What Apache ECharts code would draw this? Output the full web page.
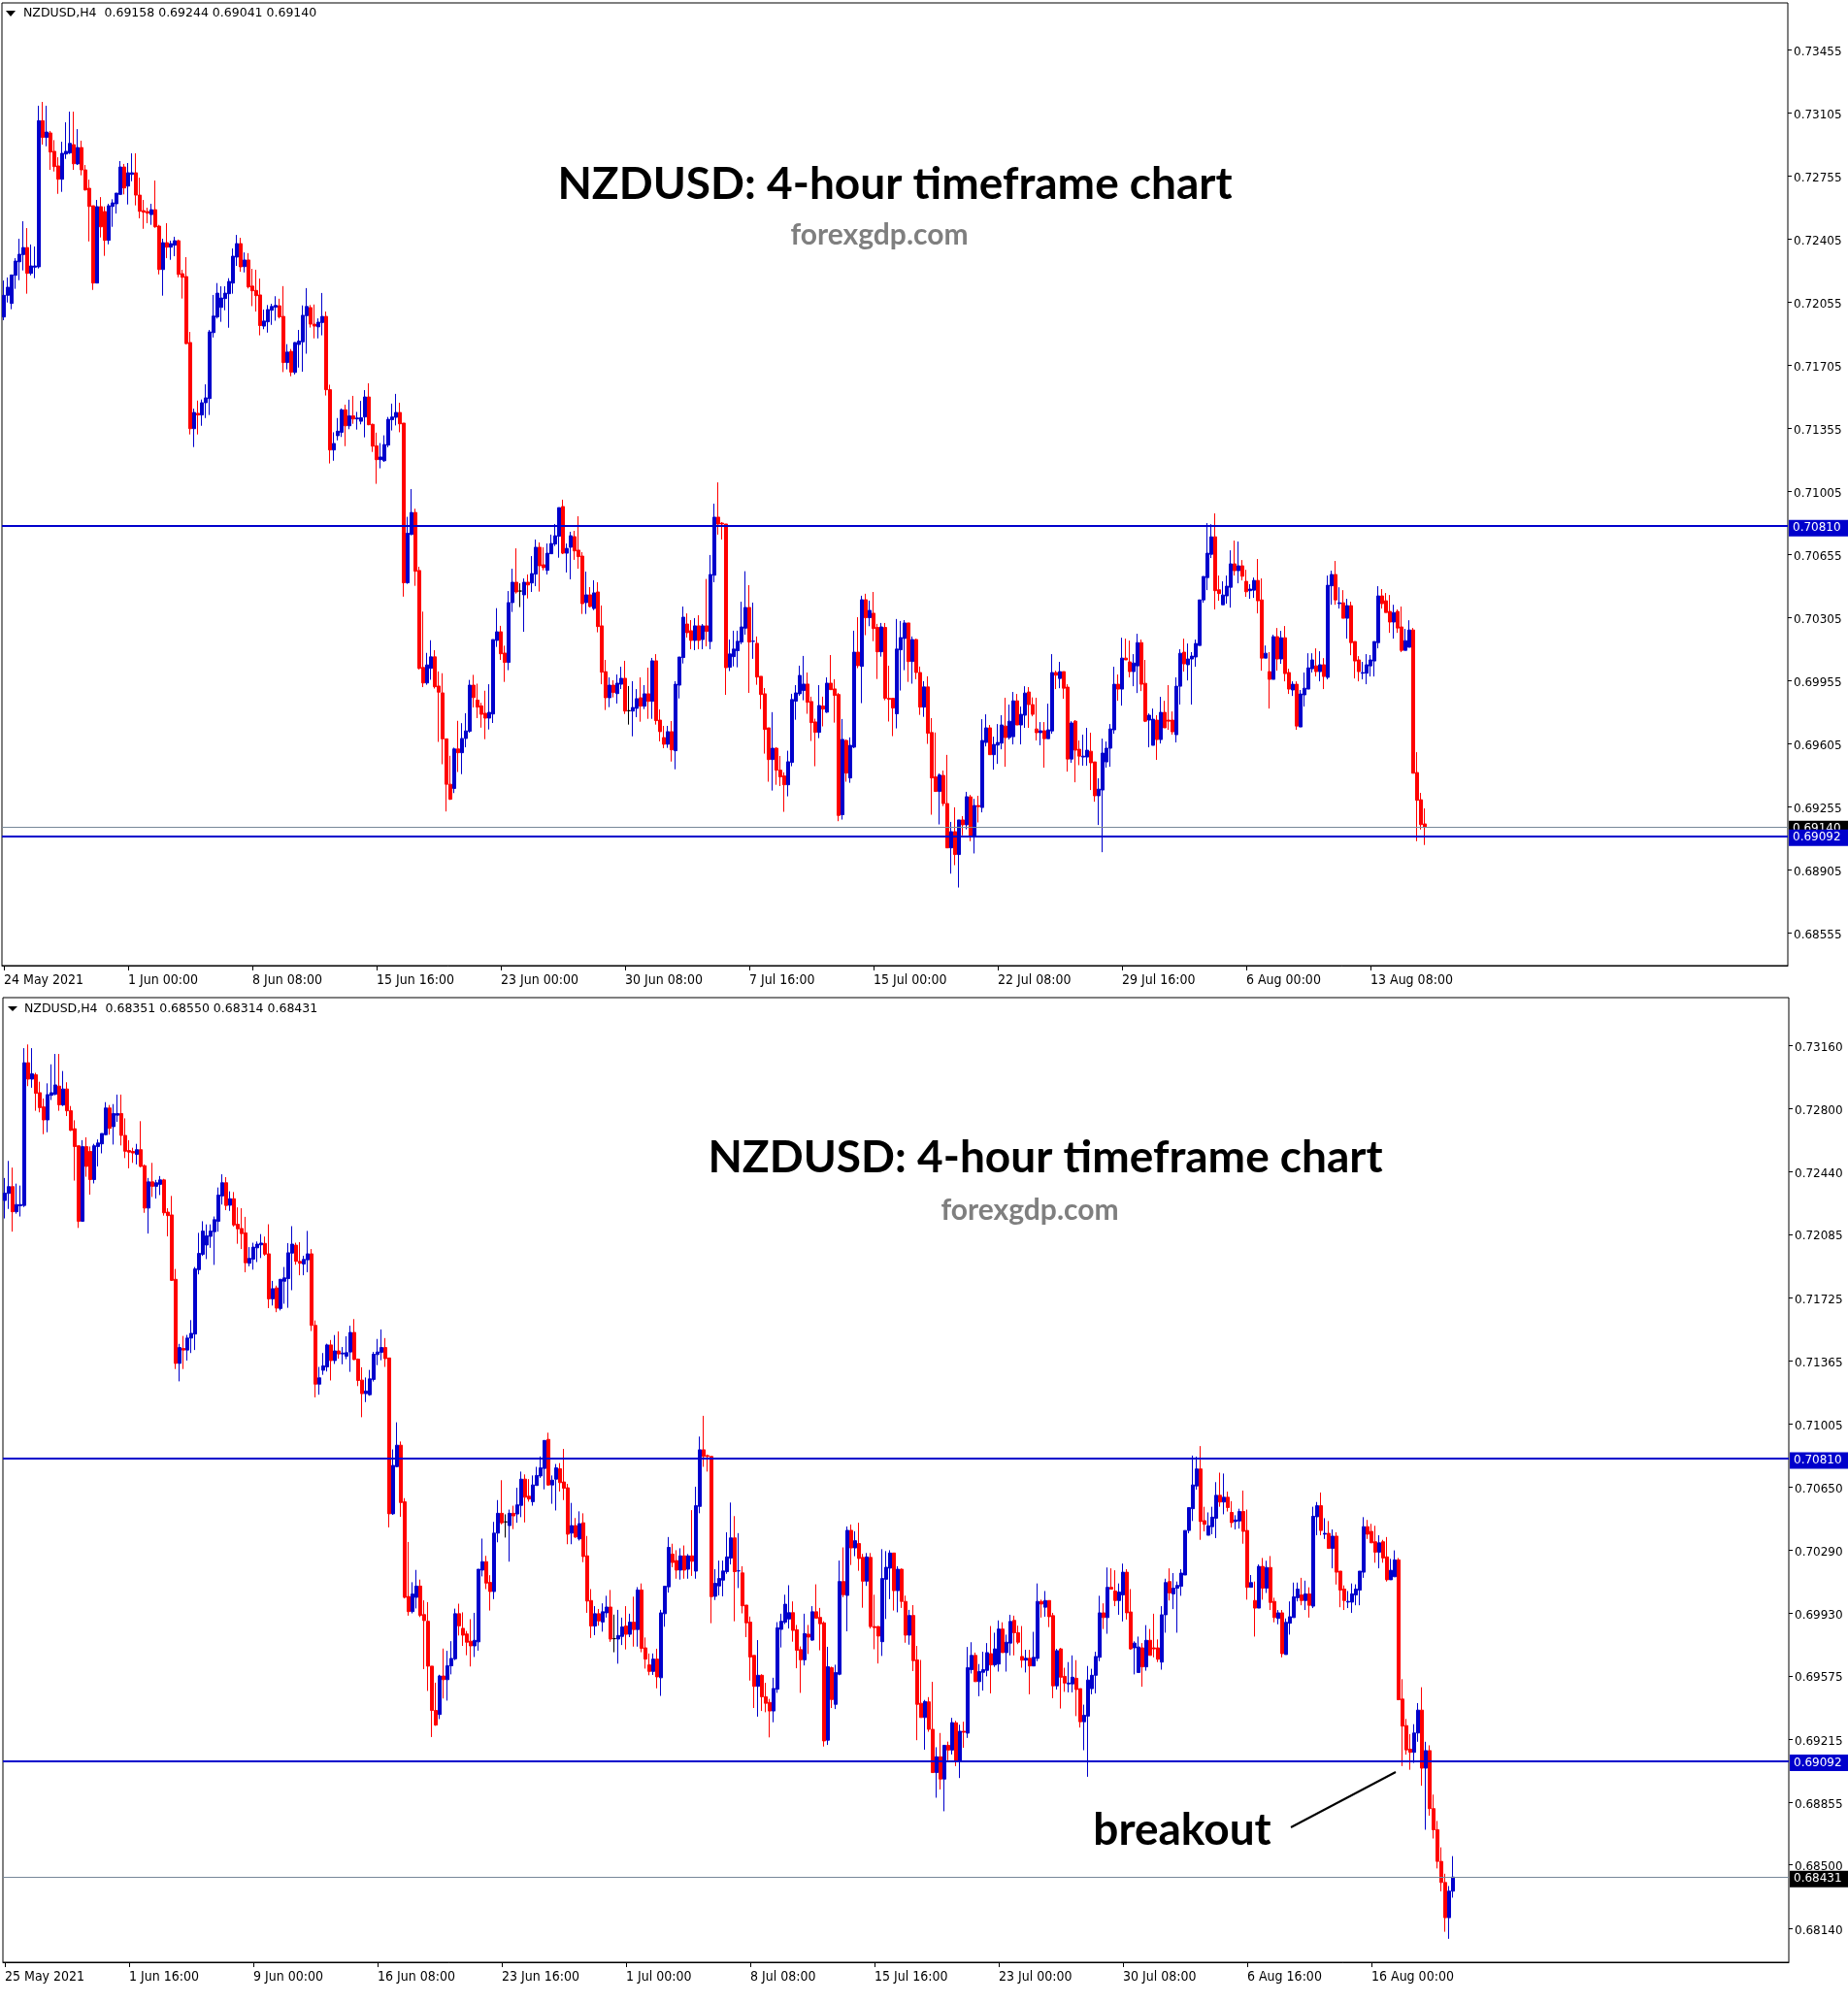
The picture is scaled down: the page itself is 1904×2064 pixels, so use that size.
<!DOCTYPE html>
<html><head><meta charset="utf-8">
<script src="https://cdn.jsdelivr.net/npm/echarts@6/dist/echarts.min.js"></script>
<style>html,body{margin:0;padding:0;background:#fff}#c{width:1904px;height:2064px}</style>
</head><body><div id="c"></div>
<script>
// NZDUSD H4 bars, from Mon 24 May 2021 16:00 (index 0)
const opens = [
0.71971,0.72091,0.72046,0.72202,0.72277,0.72317,0.72356,0.72213,0.72247,0.72249,
0.73060,0.72967,0.72992,0.72890,0.72809,0.72735,0.72875,0.72881,0.72927,0.72820,
0.72911,0.72787,0.72685,0.72588,0.72159,0.72583,0.72556,0.72396,0.72584,0.72599,
0.72651,0.72803,0.72697,0.72762,0.72771,0.72647,0.72561,0.72556,0.72539,0.72566,
0.72475,0.72234,0.72383,0.72358,0.72369,0.72394,0.72211,0.72195,0.71829,0.71351,
0.71436,0.71427,0.71495,0.71518,0.71884,0.71971,0.72024,0.72073,0.72100,0.72159,
0.72303,0.72378,0.72250,0.72287,0.72142,0.72118,0.72093,0.71920,0.71944,0.72008,
0.72025,0.72033,0.71974,0.71718,0.71780,0.71663,0.71818,0.71833,0.71978,0.72023,
0.71931,0.71916,0.71940,0.71974,0.71567,0.71233,0.71312,0.71331,0.71456,0.71367,
0.71422,0.71405,0.71392,0.71416,0.71527,0.71375,0.71256,0.71179,0.71173,0.71260,
0.71401,0.71414,0.71441,0.71382,0.70496,0.70764,0.70886,0.70564,0.70026,0.69940,
0.70021,0.70085,0.69923,0.69885,0.69630,0.69378,0.69355,0.69574,0.69553,0.69632,
0.69672,0.69928,0.69845,0.69813,0.69772,0.69745,0.69768,0.70176,0.70224,0.70106,
0.70054,0.70386,0.70499,0.70450,0.70429,0.70499,0.70495,0.70544,0.70693,0.70596,
0.70565,0.70657,0.70711,0.70754,0.70919,0.70660,0.70693,0.70752,0.70677,0.70644,
0.70386,0.70429,0.70353,0.70445,0.70257,0.70003,0.69858,0.69928,0.69881,0.69933,
0.69966,0.69786,0.69784,0.69799,0.69858,0.69811,0.69880,0.69838,0.70063,0.69734,
0.69637,0.69600,0.69670,0.69564,0.69928,0.70081,0.70267,0.70230,0.70176,0.70257,
0.70181,0.70257,0.70170,0.70538,0.70860,0.70827,0.70822,0.70027,0.70086,0.70119,
0.70167,0.70244,0.70359,0.70171,0.70160,0.69977,0.69880,0.69691,0.69515,0.69578,
0.69456,0.69424,0.69375,0.69499,0.69839,0.69880,0.69898,0.69934,0.69837,0.69724,
0.69666,0.69812,0.69778,0.69939,0.69907,0.69876,0.69209,0.69621,0.69413,0.69584,
0.70111,0.70032,0.70402,0.70302,0.70327,0.70248,0.70113,0.70248,0.69855,0.69855,
0.69769,0.70124,0.70187,0.70273,0.70059,0.70181,0.69998,0.69806,0.69918,0.69665,
0.69419,0.69338,0.69427,0.69271,0.69025,0.69115,0.68988,0.69180,0.69153,0.69308,
0.69093,0.69260,0.69249,0.69610,0.69691,0.69542,0.69595,0.69606,0.69701,0.69637,
0.69642,0.69841,0.69707,0.69761,0.69890,0.69820,0.69685,0.69664,0.69675,0.69631,
0.69674,0.69998,0.69965,0.70003,0.69917,0.69518,0.69728,0.69572,0.69529,0.69529,
0.69561,0.69502,0.69314,0.69346,0.69502,0.69578,0.69680,0.69933,0.69906,0.70078,
0.70057,0.70003,0.70035,0.70164,0.69938,0.69734,0.69594,0.69734,0.69626,0.69777,
0.69734,0.69734,0.69653,0.69922,0.70111,0.70041,0.70073,0.70084,0.70148,0.70401,
0.70525,0.70654,0.70751,0.70457,0.70374,0.70423,0.70471,0.70601,0.70563,0.70590,
0.70504,0.70452,0.70455,0.70509,0.70401,0.70078,0.70003,0.69960,0.70197,0.70073,
0.70191,0.69998,0.69901,0.69933,0.69696,0.69874,0.69906,0.70019,0.70035,0.70003,
0.70041,0.69971,0.70479,0.70542,0.70380,0.70385,0.70299,0.70369,0.70170,0.70068,
0.69994,0.69994,0.70035,0.70062,0.70164,0.70423,0.70396,0.70337,0.70278,0.70337,
0.70251,0.70121,0.70138,0.70234,0.69443,0.69292,0.69158,0.69140,0.69250,0.69380,
0.69050,0.69150,0.68820,0.68700,0.68520,0.68400,0.68200,0.68351];
const highs = [
0.72173,0.72190,0.72204,0.72297,0.72405,0.72502,0.72464,0.72373,0.72362,0.73143,
0.73164,0.73143,0.73003,0.72952,0.72857,0.72943,0.73051,0.73110,0.73110,0.73013,
0.72949,0.72814,0.72733,0.72588,0.72620,0.72636,0.72584,0.72599,0.72624,0.72658,
0.72836,0.72820,0.72825,0.72879,0.72879,0.72744,0.72620,0.72577,0.72599,0.72728,
0.72482,0.72405,0.72491,0.72394,0.72416,0.72400,0.72233,0.72303,0.71888,0.71462,
0.71507,0.71513,0.71597,0.71899,0.72093,0.72159,0.72141,0.72141,0.72186,0.72351,
0.72426,0.72410,0.72329,0.72325,0.72238,0.72233,0.72184,0.72012,0.72037,0.72044,
0.72086,0.72072,0.72142,0.71820,0.71793,0.71831,0.71899,0.72035,0.72131,0.72037,
0.72040,0.71963,0.72104,0.72001,0.71595,0.71331,0.71410,0.71463,0.71484,0.71512,
0.71533,0.71444,0.71505,0.71565,0.71603,0.71379,0.71329,0.71271,0.71314,0.71416,
0.71490,0.71544,0.71495,0.71382,0.70862,0.71016,0.70907,0.70585,0.70336,0.70107,
0.70177,0.70122,0.70004,0.69994,0.69630,0.69536,0.69581,0.69730,0.69717,0.69772,
0.69957,0.69985,0.69936,0.69830,0.69897,0.69933,0.70181,0.70355,0.70257,0.70147,
0.70450,0.70574,0.70687,0.70493,0.70520,0.70542,0.70644,0.70736,0.70720,0.70693,
0.70714,0.70763,0.70822,0.70913,0.70957,0.70714,0.70779,0.70784,0.70865,0.70666,
0.70558,0.70472,0.70510,0.70499,0.70370,0.70068,0.69971,0.69955,0.69987,0.70030,
0.70063,0.69923,0.69950,0.69906,0.69971,0.69928,0.70025,0.70079,0.70100,0.69793,
0.69702,0.69702,0.69729,0.69950,0.70084,0.70364,0.70326,0.70289,0.70300,0.70316,
0.70267,0.70517,0.70650,0.70935,0.71053,0.70833,0.70822,0.70181,0.70230,0.70230,
0.70391,0.70560,0.70483,0.70386,0.70198,0.69977,0.69912,0.69691,0.69778,0.69584,
0.69535,0.69444,0.69564,0.69880,0.69928,0.70036,0.70090,0.69998,0.69864,0.69742,
0.69928,0.69864,0.69971,0.70095,0.69961,0.69885,0.69740,0.69627,0.69638,0.70230,
0.70305,0.70424,0.70435,0.70397,0.70445,0.70268,0.70273,0.70273,0.70036,0.69858,
0.70295,0.70284,0.70289,0.70273,0.70198,0.70185,0.70031,0.69950,0.69977,0.69745,
0.69665,0.69438,0.69454,0.69541,0.69169,0.69250,0.69180,0.69201,0.69336,0.69319,
0.69297,0.69314,0.69739,0.69766,0.69707,0.69642,0.69712,0.69761,0.69858,0.69820,
0.69890,0.69879,0.69809,0.69922,0.69917,0.69860,0.69858,0.69723,0.69723,0.69825,
0.70100,0.70008,0.70057,0.70003,0.69933,0.69728,0.69734,0.69621,0.69653,0.69691,
0.69664,0.69502,0.69411,0.69631,0.69615,0.69712,0.70030,0.69987,0.70191,0.70186,
0.70175,0.70100,0.70213,0.70181,0.70068,0.69771,0.69798,0.69761,0.69863,0.69841,
0.69928,0.69782,0.69971,0.70127,0.70186,0.70159,0.70111,0.70181,0.70401,0.70531,
0.70827,0.70821,0.70881,0.70536,0.70504,0.70536,0.70676,0.70730,0.70725,0.70622,
0.70568,0.70488,0.70525,0.70628,0.70520,0.70148,0.70111,0.70208,0.70245,0.70229,
0.70256,0.70019,0.69949,0.69949,0.69901,0.69998,0.70105,0.70105,0.70132,0.70116,
0.70078,0.70536,0.70563,0.70617,0.70471,0.70455,0.70407,0.70391,0.70170,0.70089,
0.70057,0.70100,0.70095,0.70170,0.70477,0.70461,0.70439,0.70428,0.70374,0.70348,
0.70364,0.70240,0.70288,0.70245,0.69556,0.69330,0.69244,0.69300,0.69420,0.69510,
0.69200,0.69180,0.68900,0.68750,0.68600,0.68450,0.68380,0.68550];
const lows = [
0.71953,0.72051,0.72014,0.72127,0.72175,0.72229,0.72100,0.72202,0.72186,0.72240,
0.72927,0.72918,0.72787,0.72778,0.72654,0.72665,0.72848,0.72875,0.72787,0.72814,
0.72757,0.72672,0.72390,0.72121,0.72159,0.72412,0.72310,0.72374,0.72471,0.72545,
0.72647,0.72651,0.72595,0.72724,0.72590,0.72518,0.72460,0.72491,0.72482,0.72466,
0.72207,0.72089,0.72297,0.72288,0.72308,0.72191,0.72073,0.71820,0.71319,0.71249,
0.71319,0.71367,0.71410,0.71427,0.71857,0.71962,0.71944,0.72008,0.71911,0.72100,
0.72254,0.72222,0.72218,0.72129,0.72031,0.72001,0.71869,0.71903,0.71884,0.71927,
0.71950,0.71963,0.71665,0.71680,0.71642,0.71652,0.71690,0.71667,0.71767,0.71912,
0.71852,0.71852,0.71869,0.71535,0.71158,0.71173,0.71286,0.71305,0.71254,0.71348,
0.71378,0.71346,0.71375,0.71303,0.71370,0.71222,0.71045,0.71131,0.71167,0.71248,
0.71341,0.71369,0.71331,0.70419,0.70490,0.70760,0.70479,0.70015,0.69917,0.69930,
0.69958,0.69909,0.69613,0.69489,0.69227,0.69291,0.69329,0.69446,0.69434,0.69583,
0.69664,0.69804,0.69745,0.69692,0.69628,0.69682,0.69718,0.70140,0.70068,0.69946,
0.70011,0.70334,0.70436,0.70361,0.70224,0.70409,0.70445,0.70477,0.70447,0.70565,
0.70542,0.70657,0.70700,0.70635,0.70655,0.70553,0.70515,0.70623,0.70574,0.70323,
0.70323,0.70359,0.70344,0.70221,0.69933,0.69790,0.69806,0.69860,0.69826,0.69906,
0.69768,0.69709,0.69644,0.69750,0.69725,0.69795,0.69741,0.69741,0.69709,0.69616,
0.69578,0.69580,0.69504,0.69461,0.69854,0.70048,0.70192,0.70127,0.70122,0.70127,
0.70127,0.70143,0.70127,0.70499,0.70763,0.70736,0.69874,0.70006,0.70032,0.70027,
0.70155,0.70208,0.69885,0.70074,0.69930,0.69795,0.69548,0.69392,0.69343,0.69375,
0.69368,0.69225,0.69311,0.69478,0.69736,0.69869,0.69844,0.69769,0.69618,0.69478,
0.69634,0.69699,0.69774,0.69903,0.69720,0.69173,0.69182,0.69392,0.69386,0.69578,
0.70022,0.69828,0.70205,0.70255,0.70172,0.69962,0.70086,0.69844,0.69726,0.69645,
0.69688,0.69898,0.70011,0.69946,0.69936,0.69961,0.69763,0.69752,0.69602,0.69209,
0.69338,0.69155,0.69257,0.69025,0.68882,0.68929,0.68805,0.69095,0.69128,0.69062,
0.68994,0.69166,0.69222,0.69588,0.69542,0.69459,0.69491,0.69572,0.69475,0.69626,
0.69599,0.69707,0.69599,0.69691,0.69691,0.69755,0.69621,0.69594,0.69470,0.69631,
0.69658,0.69906,0.69911,0.69852,0.69448,0.69497,0.69389,0.69484,0.69481,0.69481,
0.69346,0.69281,0.69152,0.69001,0.69470,0.69475,0.69658,0.69841,0.69814,0.70068,
0.69971,0.69922,0.69884,0.69895,0.69723,0.69583,0.69594,0.69513,0.69604,0.69691,
0.69680,0.69653,0.69610,0.69820,0.70003,0.69954,0.69820,0.70030,0.70148,0.70385,
0.70455,0.70633,0.70348,0.70396,0.70374,0.70380,0.70358,0.70536,0.70493,0.70509,
0.70418,0.70407,0.70412,0.70326,0.70008,0.70078,0.69798,0.69960,0.70008,0.70046,
0.69949,0.69879,0.69868,0.69680,0.69696,0.69809,0.69906,0.69998,0.69976,0.69949,
0.69906,0.69960,0.70374,0.70374,0.70353,0.70299,0.70186,0.70094,0.69965,0.69949,
0.69960,0.69933,0.69976,0.69976,0.70132,0.70353,0.70331,0.70218,0.70186,0.70218,
0.70111,0.70121,0.70138,0.69439,0.69062,0.69127,0.69041,0.69080,0.69200,0.68950,
0.68700,0.68780,0.68650,0.68480,0.68350,0.68120,0.68080,0.68314];
const closes = [
0.72091,0.72136,0.72204,0.72281,0.72319,0.72356,0.72213,0.72254,0.72254,0.73060,
0.72967,0.72997,0.72886,0.72805,0.72735,0.72879,0.72890,0.72934,0.72821,0.72911,
0.72787,0.72676,0.72584,0.72159,0.72583,0.72471,0.72396,0.72588,0.72604,0.72658,
0.72803,0.72687,0.72771,0.72771,0.72647,0.72557,0.72552,0.72547,0.72566,0.72471,
0.72234,0.72383,0.72358,0.72378,0.72394,0.72207,0.72191,0.71823,0.71351,0.71441,
0.71427,0.71495,0.71522,0.71888,0.71976,0.72103,0.72076,0.72103,0.72168,0.72308,
0.72378,0.72249,0.72287,0.72138,0.72116,0.72089,0.71923,0.71948,0.72012,0.72029,
0.72035,0.71972,0.71718,0.71776,0.71665,0.71829,0.71837,0.71980,0.72029,0.71931,
0.71920,0.71942,0.71974,0.71567,0.71233,0.71269,0.71337,0.71456,0.71367,0.71422,
0.71405,0.71410,0.71412,0.71527,0.71373,0.71254,0.71179,0.71194,0.71263,0.71403,
0.71416,0.71441,0.71378,0.70496,0.70771,0.70886,0.70560,0.70021,0.69940,0.70040,
0.70085,0.69919,0.69889,0.69630,0.69378,0.69295,0.69574,0.69553,0.69632,0.69674,
0.69928,0.69859,0.69806,0.69766,0.69745,0.69777,0.70181,0.70224,0.70102,0.70054,
0.70386,0.70499,0.70445,0.70450,0.70499,0.70484,0.70547,0.70693,0.70590,0.70580,
0.70660,0.70714,0.70757,0.70913,0.70660,0.70687,0.70757,0.70673,0.70641,0.70380,
0.70429,0.70364,0.70440,0.70253,0.70000,0.69858,0.69928,0.69887,0.69939,0.69966,
0.69784,0.69786,0.69804,0.69853,0.69811,0.69880,0.69838,0.70063,0.69731,0.69670,
0.69600,0.69670,0.69569,0.69933,0.70084,0.70305,0.70219,0.70176,0.70257,0.70176,
0.70257,0.70226,0.70542,0.70860,0.70822,0.70822,0.70025,0.70101,0.70128,0.70171,
0.70251,0.70359,0.70167,0.70172,0.69973,0.69876,0.69682,0.69515,0.69578,0.69456,
0.69419,0.69375,0.69503,0.69848,0.69885,0.69982,0.69934,0.69833,0.69720,0.69666,
0.69815,0.69795,0.69939,0.69903,0.69871,0.69205,0.69627,0.69440,0.69594,0.70111,
0.70036,0.70402,0.70302,0.70343,0.70242,0.70113,0.70251,0.69855,0.69849,0.69801,
0.70128,0.70192,0.70273,0.70059,0.70181,0.69998,0.69806,0.69918,0.69661,0.69413,
0.69338,0.69429,0.69271,0.69025,0.69115,0.68988,0.69180,0.69153,0.69309,0.69093,
0.69260,0.69254,0.69621,0.69691,0.69542,0.69599,0.69610,0.69707,0.69637,0.69728,
0.69841,0.69707,0.69766,0.69884,0.69820,0.69766,0.69664,0.69675,0.69631,0.69680,
0.69998,0.69983,0.70003,0.69911,0.69518,0.69718,0.69567,0.69534,0.69534,0.69567,
0.69497,0.69314,0.69351,0.69551,0.69578,0.69685,0.69933,0.69906,0.70078,0.70068,
0.70003,0.70051,0.70164,0.69933,0.69728,0.69761,0.69739,0.69626,0.69777,0.69691,
0.69728,0.69669,0.69922,0.70105,0.70046,0.70073,0.70089,0.70159,0.70401,0.70531,
0.70660,0.70751,0.70452,0.70436,0.70428,0.70477,0.70601,0.70563,0.70590,0.70532,
0.70446,0.70461,0.70509,0.70396,0.70078,0.70105,0.69960,0.70197,0.70073,0.70191,
0.69992,0.69906,0.69933,0.69701,0.69879,0.69911,0.70024,0.70068,0.70003,0.70041,
0.69976,0.70482,0.70542,0.70401,0.70385,0.70299,0.70369,0.70164,0.70062,0.70003,
0.69998,0.70041,0.70068,0.70170,0.70423,0.70380,0.70331,0.70278,0.70331,0.70245,
0.70121,0.70175,0.70234,0.69439,0.69289,0.69154,0.69140,0.69250,0.69380,0.69050,
0.69150,0.68820,0.68700,0.68520,0.68400,0.68200,0.68351,0.68431];

// Time-axis labels (one every 32 bars)
const topTimeLabels = ['24 May 2021','1 Jun 00:00','8 Jun 08:00','15 Jun 16:00','23 Jun 00:00','30 Jun 08:00','7 Jul 16:00','15 Jul 00:00','22 Jul 08:00','29 Jul 16:00','6 Aug 00:00','13 Aug 08:00'];
const bottomTimeLabels = ['25 May 2021','1 Jun 16:00','9 Jun 00:00','16 Jun 08:00','23 Jun 16:00','1 Jul 00:00','8 Jul 08:00','15 Jul 16:00','23 Jul 00:00','30 Jul 08:00','6 Aug 16:00','16 Aug 00:00'];
// Price-axis labels
const topPriceTicks = [0.73455,0.73105,0.72755,0.72405,0.72055,0.71705,0.71355,0.71005,0.70655,0.70305,0.69955,0.69605,0.69255,0.68905,0.68555];
const bottomPriceTicks = [0.73160,0.72800,0.72440,0.72085,0.71725,0.71365,0.71005,0.70650,0.70290,0.69930,0.69575,0.69215,0.68855,0.68500,0.68140];
// Horizontal levels
const resistanceLevel = 0.70810;
const supportLevel = 0.69092;
const topLastPrice = 0.69140;
const bottomLastPrice = 0.68431;
const topRange = [0, 367];      // bars shown in upper chart
const bottomRange = [4, 378];   // bars shown in lower chart
const topHeader = 'NZDUSD,H4  0.69158 0.69244 0.69041 0.69140';
const bottomHeader = 'NZDUSD,H4  0.68351 0.68550 0.68314 0.68431';

const SLOTS = 460, STEP = 32;
const BLUE = '#0000CC', RED = '#FF0000';
const AXIS_FONT = 'DejaVu Sans';
const TIME_FONT = "'Liberation Sans Narrow','DejaVu Sans Condensed',sans-serif";

function candles(r) {
  const out = [];
  for (let i = r[0]; i < r[1]; i++) out.push([opens[i], closes[i], lows[i], highs[i]]);
  return out;
}
const slotCats = Array.from({length: SLOTS}, (_, i) => String(i));
function showAt(labels) { return (i) => i % STEP === 0 && (i / STEP) < labels.length; }

function xAxisFor(g, labels) {
  return {
    gridIndex: g, type: 'category', data: slotCats, boundaryGap: true,
    axisLine: {show: true, lineStyle: {color: '#000', width: 1}},
    axisTick: {show: true, alignWithLabel: true, interval: showAt(labels), length: 5, lineStyle: {color: '#000'}},
    axisLabel: {show: true, interval: showAt(labels), formatter: (v, i) => labels[i / STEP] || '',
      align: 'left', margin: 8, color: '#000', fontFamily: TIME_FONT, fontSize: 14, hideOverlap: false},
    splitLine: {show: false}
  };
}
function yAxisFor(g, ticks, min, max) {
  return {
    gridIndex: g, type: 'value', position: 'right', min: min, max: max, scale: true,
    axisLine: {show: false}, splitLine: {show: false},
    axisTick: {show: true, inside: false, length: 4, customValues: ticks, lineStyle: {color: '#000'}},
    axisLabel: {show: true, customValues: ticks, formatter: v => v.toFixed(5), margin: 6,
      verticalAlign: 'top', lineHeight: 5, color: '#000', fontFamily: AXIS_FONT, fontSize: 12}
  };
}
function levelLines(last) {
  const lab = (bg) => ({show: true, position: 'end', distance: 1, offset: [0, 2], formatter: p => Number(p.value).toFixed(5),
    color: '#fff', backgroundColor: bg, padding: [3, 9, 2, 4], lineHeight: 12, fontFamily: AXIS_FONT, fontSize: 12});
  return {
    symbol: ['none', 'none'], silent: true, animation: false, precision: 5,
    data: [
      {yAxis: last, lineStyle: {color: '#778899', width: 1, type: 'solid'}, label: lab('#000')},
      {yAxis: resistanceLevel, lineStyle: {color: BLUE, width: 2, type: 'solid'}, label: lab(BLUE)},
      {yAxis: supportLevel, lineStyle: {color: BLUE, width: 2, type: 'solid'}, label: lab(BLUE)}
    ]
  };
}
function candleSeries(idx, r, last) {
  return {
    type: 'candlestick', xAxisIndex: idx, yAxisIndex: idx, data: candles(r), barWidth: 3,
    itemStyle: {color: BLUE, color0: RED, borderColor: BLUE, borderColor0: RED, borderColorDoji: '#000', borderWidth: 1},
    markLine: levelLines(last), animation: false, silent: true
  };
}

const chart = echarts.init(document.getElementById('c'), null, {renderer: 'canvas'});
chart.setOption({
  animation: false,
  backgroundColor: '#fff',
  grid: [
    {left: 2, top: 3, width: 1840, height: 992, show: true, borderColor: '#000', borderWidth: 1, backgroundColor: '#fff'},
    {left: 3, top: 1028, width: 1840, height: 994, show: true, borderColor: '#000', borderWidth: 1, backgroundColor: '#fff'}
  ],
  xAxis: [xAxisFor(0, topTimeLabels), xAxisFor(1, bottomTimeLabels)],
  yAxis: [yAxisFor(0, topPriceTicks, 0.683718, 0.737135), yAxisFor(1, bottomPriceTicks, 0.679468, 0.734303)],
  series: [candleSeries(0, topRange, topLastPrice), candleSeries(1, bottomRange, bottomLastPrice)],
  graphic: [
    {type: 'polygon', shape: {points: [[6, 11], [16, 11], [11, 17]]}, style: {fill: '#000'}},
    {type: 'text', x: 24, y: 14, style: {text: topHeader, font: '12.5px "DejaVu Sans"', fill: '#000', textVerticalAlign: 'middle'}},
    {type: 'polygon', shape: {points: [[8, 1037], [18, 1037], [13, 1042]]}, style: {fill: '#000'}},
    {type: 'text', x: 25, y: 1040, style: {text: bottomHeader, font: '12.5px "DejaVu Sans"', fill: '#000', textVerticalAlign: 'middle'}},
    {type: 'text', x: 922, y: 190, style: {text: 'NZDUSD: 4-hour timeframe chart', font: 'bold 46px Lato', fill: '#000', textAlign: 'center', textVerticalAlign: 'middle'}},
    {type: 'text', x: 906, y: 242, style: {text: 'forexgdp.com', font: 'bold 30px Lato', fill: '#7f7f7f', textAlign: 'center', textVerticalAlign: 'middle'}},
    {type: 'text', x: 1077, y: 1193, style: {text: 'NZDUSD: 4-hour timeframe chart', font: 'bold 46px Lato', fill: '#000', textAlign: 'center', textVerticalAlign: 'middle'}},
    {type: 'text', x: 1061, y: 1247, style: {text: 'forexgdp.com', font: 'bold 30px Lato', fill: '#7f7f7f', textAlign: 'center', textVerticalAlign: 'middle'}},
    {type: 'text', x: 1218, y: 1886, style: {text: 'breakout', font: 'bold 46px Lato', fill: '#000', textAlign: 'center', textVerticalAlign: 'middle'}},
    {type: 'line', shape: {x1: 1330, y1: 1883, x2: 1438, y2: 1826}, style: {stroke: '#000', lineWidth: 2}}
  ]
});
</script>
</body></html>
